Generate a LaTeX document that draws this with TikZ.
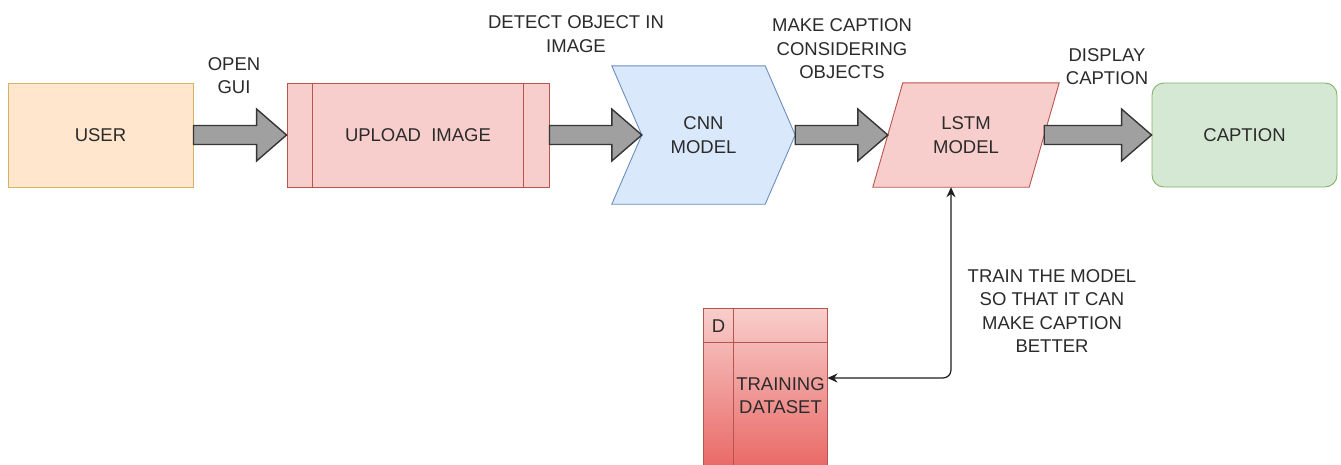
\documentclass[tikz,border=0pt]{standalone}
\usepackage{fontspec}
\setmainfont{Liberation Sans}
\usetikzlibrary{calc,backgrounds,arrows.meta}
\definecolor{txt}{HTML}{2B2B2B}
\definecolor{userfill}{HTML}{FFE6CC}
\definecolor{userline}{HTML}{D6B460}
\definecolor{redfill}{HTML}{F8CECC}
\definecolor{redline}{HTML}{B85450}
\definecolor{reddark}{HTML}{E86461}
\definecolor{bluefill}{HTML}{DAE8FC}
\definecolor{blueline}{HTML}{6C8EBF}
\definecolor{greenfill}{HTML}{D5E8D4}
\definecolor{greenline}{HTML}{82B366}
\definecolor{fatfill}{HTML}{A0A0A0}
\definecolor{fatline}{HTML}{363636}
\definecolor{connc}{HTML}{1E1E1E}
\tikzset{
  lbl/.style={font=\fontsize{18.5}{23.5}\selectfont, text=txt, align=center, inner sep=0pt},
  userbox/.style={lbl, draw=userline, fill=userfill, line width=0.9pt},
  upbox/.style={lbl, draw=redline, fill=redfill, line width=0.9pt},
  upline/.style={draw=redline, line width=0.9pt},
  cnnshape/.style={draw=blueline, fill=bluefill, line width=0.9pt},
  lstmshape/.style={draw=redline, fill=redfill, line width=0.9pt},
  capbox/.style={lbl, draw=greenline, fill=greenfill, line width=0.9pt, rounded corners=12pt},
  dsbox/.style={lbl, draw=redline, line width=0.9pt, top color=redfill, bottom color=reddark},
  dsline/.style={draw=redline, line width=0.9pt},
  fatarr/.style={fill=fatfill, draw=fatline, line width=1.4pt, line join=miter},
  conn/.style={draw=connc, line width=1.2pt, rounded corners=8pt,
    {Stealth[length=10pt,width=9pt]}-{Stealth[length=10pt,width=9pt]}},
}
\newcommand\fatarrow[2]{%
  \draw[fatarr] let \p1=(#1), \p2=(#2) in
    (\x1,\y1+9.5pt) -- (\x2-30pt,\y1+9.5pt) -- (\x2-30pt,\y1+26pt) -- (\x2,\y1)
    -- (\x2-30pt,\y1-26pt) -- (\x2-30pt,\y1-9.5pt) -- (\x1,\y1-9.5pt) -- cycle;}
\begin{document}
\begin{tikzpicture}[x=1pt,y=-1pt]
\begin{scope}[on background layer]
  \fill[white] (0,0) rectangle (1341,464);
\end{scope}
\useasboundingbox (0,0) rectangle (1341,464);

% main boxes
\node[userbox, minimum width=185pt, minimum height=104pt] (user) at (100.5,135) {USER};
\node[upbox, minimum width=262pt, minimum height=104pt] (upload) at (418,135) {UPLOAD\ \ IMAGE};
\draw[upline] ([xshift=26pt]upload.north west) -- ([xshift=26pt]upload.south west);
\draw[upline] ([xshift=-26pt]upload.north east) -- ([xshift=-26pt]upload.south east);

\node[lbl, minimum width=183pt, minimum height=138pt] (cnn) at (703.5,135) {CNN\\MODEL};
\coordinate (cnnnotch) at ([xshift=30pt]cnn.west);

\node[lbl, minimum width=186pt, minimum height=104pt] (lstm) at (966,135) {LSTM\\MODEL};
\coordinate (lstmw) at ([xshift=15pt]lstm.west);
\coordinate (lstme) at ([xshift=-15pt]lstm.east);
\coordinate (lstmb) at ([xshift=-15pt]lstm.south);

\node[capbox, minimum width=185pt, minimum height=104pt] (caption) at (1244.5,135) {CAPTION};

\begin{scope}[on background layer]
  \draw[cnnshape] (cnn.north west) -- ([xshift=-30pt]cnn.north east) -- (cnn.east)
    -- ([xshift=-30pt]cnn.south east) -- (cnn.south west) -- (cnnnotch) -- cycle;
  \draw[lstmshape] ([xshift=30pt]lstm.north west) -- (lstm.north east)
    -- ([xshift=-30pt]lstm.south east) -- (lstm.south west) -- cycle;
\end{scope}

% fat arrows
\fatarrow{user.east}{upload.west}
\fatarrow{upload.east}{cnnnotch}
\fatarrow{cnn.east}{lstmw}
\fatarrow{lstme}{caption.west}

% labels
\node[lbl] (lgui) at (234,75.5) {OPEN\\GUI};
\node[lbl] (ldetect) at (576,34) {DETECT OBJECT IN\\IMAGE};
\node[lbl] (lmake) at (842,49) {MAKE CAPTION\\CONSIDERING\\OBJECTS};
\node[lbl] (ldisplay) at (1107,66.5) {DISPLAY\\CAPTION};
\node[lbl] (ltrain) at (1052,311) {TRAIN THE MODEL\\SO THAT IT CAN\\MAKE CAPTION\\BETTER};

% dataset
\begin{scope}
  \clip (0,0) rectangle (1341,464);
  \node[dsbox, minimum width=124pt, minimum height=167pt] (data) at (765,391.5) {};
  \draw[dsline] ([yshift=-35pt]data.north west) -- ([yshift=-35pt]data.north east);
  \draw[dsline] ([xshift=31pt]data.north west) -- ([xshift=31pt]data.south west);
\end{scope}
\node[lbl] (dlabel) at (718.5,326) {D};
\node[lbl] (dtext) at (780.5,395.5) {TRAINING\\DATASET};

% connector
\draw[conn] (lstmb) |- ([yshift=13.5pt]data.east);
\end{tikzpicture}
\end{document}
